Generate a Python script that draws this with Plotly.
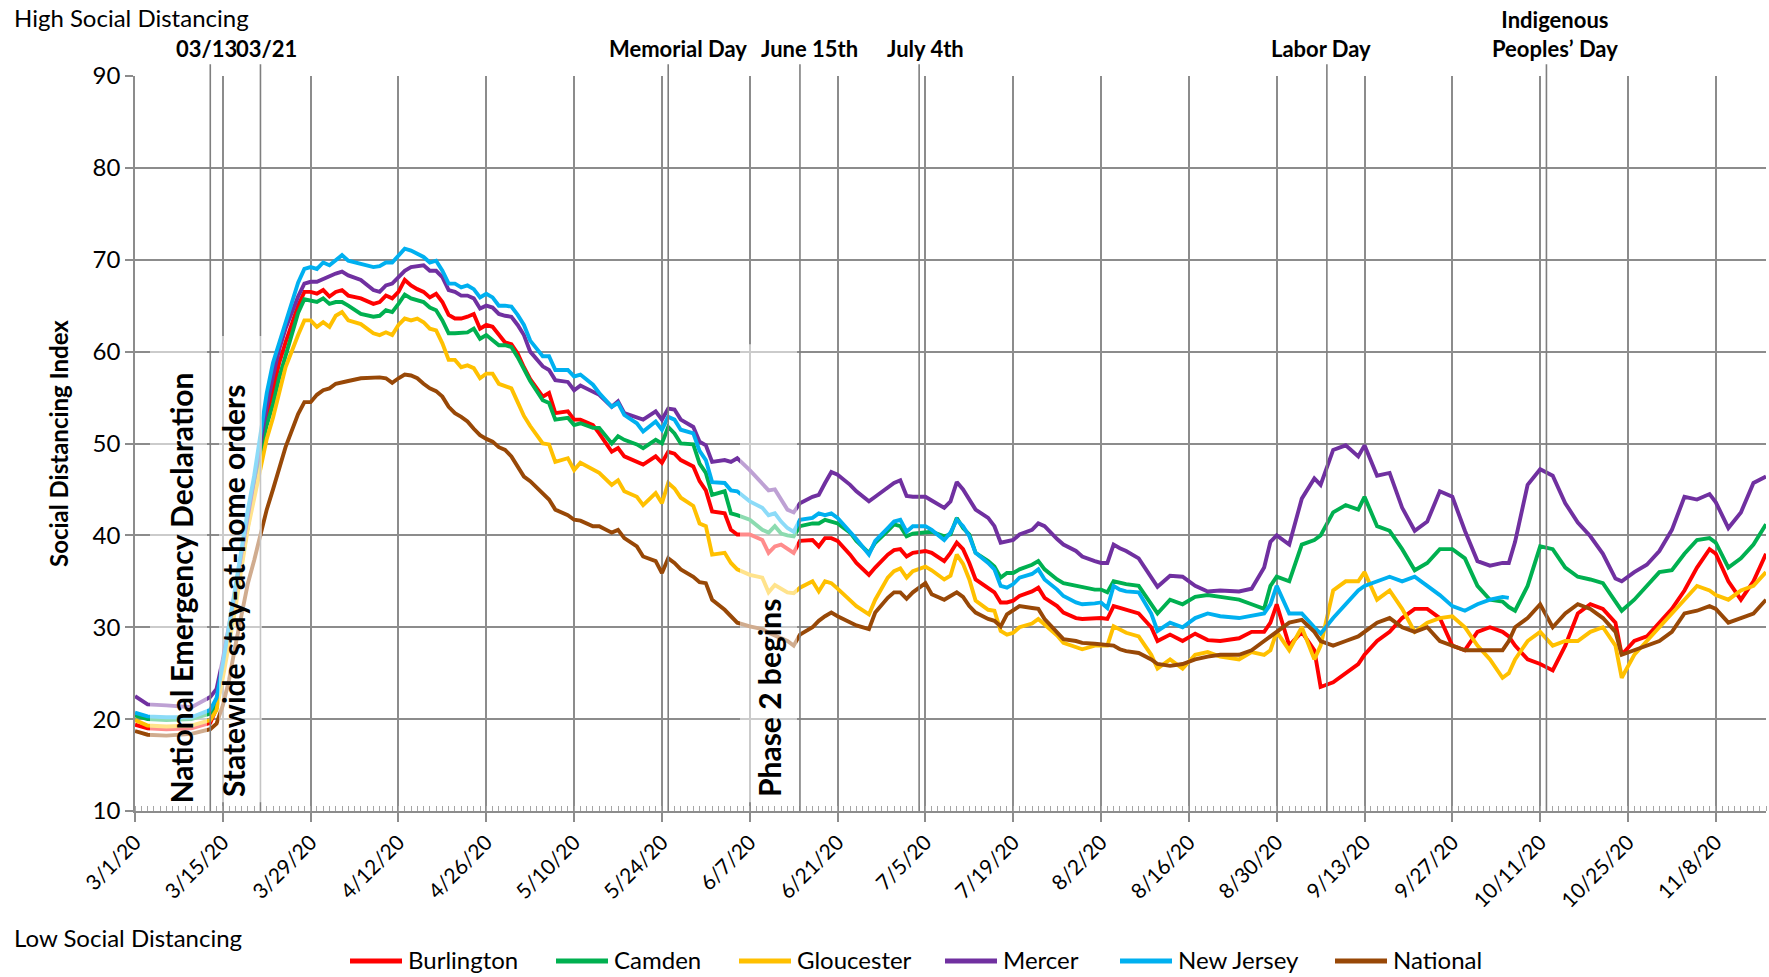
import pandas as pd
import plotly.graph_objects as go

# ---------------- data ----------------
START = "2020-03-01"
day_offsets = [0, 2, 5, 9, 12, 13, 14, 15, 16, 17, 18, 19, 20, 21, 22, 23, 24, 26, 27,
               28, 29, 30, 31, 32, 33, 34, 36, 38, 39, 40, 41, 42, 43, 44, 45, 46, 47, 48, 49,
               50, 51, 52, 53, 54, 55, 56, 57, 58, 59, 60, 61, 62, 63,
               65, 66, 67, 69, 70, 71, 73, 74, 76, 77, 78, 80, 81, 83, 84, 85, 86, 87, 89, 90,
               91, 92, 94, 95, 96,
               98, 100, 101, 102, 103, 104, 105, 106, 108, 109, 110, 111, 112, 114, 115, 117, 118,
               120, 121, 122, 123, 124, 126, 127, 129, 130, 131, 132, 133, 134, 136, 137, 138, 139,
               140, 141, 143, 144, 145, 147, 148, 150, 151, 153, 154, 155, 156, 157, 158,
               160, 162, 163, 165, 167, 169, 171, 173, 176, 178, 180, 181, 182, 184, 186, 188, 189,
               191, 193, 195, 196, 198, 200, 202, 204, 206, 208, 210, 212, 214, 216, 218, 219, 220,
               222, 224, 226, 228, 230, 232, 234, 236, 237, 239, 241, 243, 245, 247, 249, 251, 252,
               254, 256, 258, 260]

burlington = [19.4, 19.0, 18.9, 19.0, 19.6, 21.2, 25.0, 28.8, 33.0, 37.0, 41.0, 44.8, 49.0, 53.0, 55.8, 58.8, 61.0, 65.0, 66.5,
              66.5, 66.3, 66.7, 66.0, 66.5, 66.7, 66.1, 65.8, 65.2, 65.4, 66.1, 65.8, 66.5, 67.8, 67.2, 66.8, 66.5, 65.9, 66.3, 65.4,
              64.0, 63.6, 63.6, 63.8, 64.1, 62.5, 62.9, 62.7, 61.8, 61.0, 60.8, 59.8, 58.3, 57.0,
              55.1, 55.5, 53.3, 53.5, 52.6, 52.6, 52.0, 51.1, 49.1, 49.5, 48.6, 48.0, 47.7, 48.6, 47.9, 49.1, 48.9, 48.2, 47.5, 45.9,
              44.9, 42.6, 42.4, 40.6, 40.1,
              40.1, 39.5, 38.1, 38.8, 39.0, 38.6, 38.1, 39.4, 39.5, 38.8, 39.7, 39.7, 39.4, 37.9, 37.0, 35.7, 36.5,
              37.9, 38.4, 38.5, 37.7, 38.1, 38.3, 38.1, 37.2, 38.1, 39.2, 38.5, 37.0, 35.2, 34.3, 33.8, 32.7, 32.7,
              32.9, 33.4, 33.9, 34.3, 33.2, 32.3, 31.6, 31.0, 30.9, 31.0, 31.0, 30.9, 32.3, 32.1, 31.9,
              31.5, 30.0, 28.5, 29.2, 28.5, 29.3, 28.6, 28.5, 28.8, 29.5, 29.5, 30.5, 32.5, 28.0, 29.5, 27.5, 23.5,
              24.0, 25.0, 26.0, 27.0, 28.5, 29.5, 31.0, 32.0, 32.0, 31.0, 28.0, 27.5, 29.5, 30.0, 29.5, 29.0, 28.0,
              26.5, 26.0, 25.3, 28.0, 31.5, 32.5, 32.0, 30.5, 27.0, 28.5, 29.0, 30.5, 32.0, 34.0, 36.5, 38.5, 38.0,
              35.0, 33.0, 35.0, 38.0]

camden = [20.4, 20.0, 19.9, 20.0, 20.6, 21.8, 25.3, 29.2, 33.3, 37.5, 41.3, 45.0, 49.0, 52.0, 54.3, 57.2, 59.5, 64.2, 65.7,
          65.6, 65.4, 65.8, 65.2, 65.4, 65.4, 65.0, 64.1, 63.8, 63.9, 64.5, 64.3, 65.2, 66.2, 65.8, 65.6, 65.4, 64.8, 64.5, 63.4,
          62.0, 62.0, 62.0, 62.1, 62.5, 61.4, 61.8, 61.2, 60.7, 60.7, 60.5, 59.4, 58.2, 56.8,
          54.7, 54.4, 52.6, 52.8, 52.0, 52.2, 51.7, 51.7, 50.0, 50.8, 50.4, 49.9, 49.5, 50.4, 50.0, 51.8, 51.1, 50.0, 49.9, 47.8,
          46.8, 44.4, 44.8, 42.4, 42.2,
          41.7, 40.6, 40.3, 41.0, 40.2, 40.0, 39.9, 41.0, 41.3, 41.3, 41.7, 41.5, 41.3, 40.3, 39.4, 38.1, 39.2,
          40.5, 41.2, 41.0, 39.9, 40.2, 40.4, 40.4, 39.9, 40.1, 41.9, 40.8, 40.1, 38.1, 37.2, 36.6, 35.4, 35.9,
          35.9, 36.3, 36.8, 37.2, 36.3, 35.2, 34.8, 34.5, 34.3, 34.1, 34.1, 33.8, 35.0, 34.8, 34.7,
          34.5, 32.5, 31.5, 33.0, 32.5, 33.3, 33.5, 33.3, 33.0, 32.5, 32.0, 34.5, 35.5, 35.0, 39.0, 39.5, 40.0,
          42.5, 43.3, 42.8, 44.2, 41.0, 40.5, 38.5, 36.2, 37.0, 38.5, 38.5, 37.5, 34.5, 33.0, 32.8, 32.2, 31.8,
          34.5, 38.8, 38.5, 36.5, 35.5, 35.2, 34.8, 32.8, 31.8, 33.0, 34.5, 36.0, 36.2, 38.0, 39.5, 39.7, 39.2,
          36.5, 37.5, 39.0, 41.2]

gloucester = [19.9, 19.3, 19.2, 19.3, 19.9, 21.0, 24.5, 28.0, 32.0, 36.5, 40.8, 44.0, 47.5, 50.5, 52.8, 55.5, 58.3, 61.8, 63.4,
              63.4, 62.7, 63.2, 62.7, 63.9, 64.3, 63.4, 63.0, 62.0, 61.8, 62.1, 61.8, 62.9, 63.6, 63.4, 63.6, 63.2, 62.5, 62.3, 60.9,
              59.1, 59.1, 58.3, 58.5, 58.2, 57.1, 57.6, 57.6, 56.5, 56.2, 56.0, 54.5, 53.0, 51.9,
              50.0, 49.9, 48.0, 48.4, 47.1, 47.9, 47.1, 46.8, 45.5, 46.0, 44.8, 44.2, 43.3, 44.6, 43.5, 45.7, 45.1, 44.1, 43.2, 41.3,
              41.0, 37.9, 38.1, 37.0, 36.3,
              35.7, 35.4, 33.8, 34.6, 34.2, 33.8, 33.7, 34.3, 35.0, 33.9, 35.0, 34.8, 34.2, 32.9, 32.3, 31.4, 33.0,
              35.4, 36.1, 36.4, 35.4, 36.1, 36.6, 36.2, 35.2, 35.6, 37.9, 36.9, 35.2, 32.9, 31.9, 31.8, 29.6, 29.2,
              29.4, 30.0, 30.4, 30.9, 30.3, 29.1, 28.3, 27.8, 27.6, 28.0, 28.0, 28.0, 30.1, 29.8, 29.4,
              29.0, 27.0, 25.5, 26.5, 25.5, 27.0, 27.3, 26.8, 26.5, 27.3, 27.0, 27.5, 29.5, 27.5, 30.0, 26.5, 28.0,
              34.0, 35.0, 35.0, 36.0, 33.0, 34.0, 32.0, 29.5, 30.5, 31.0, 31.2, 30.0, 28.0, 26.5, 24.5, 25.0, 26.5,
              28.5, 29.5, 28.0, 28.5, 28.5, 29.5, 30.0, 28.0, 24.5, 27.0, 28.5, 30.0, 31.5, 33.0, 34.5, 34.0, 33.5,
              33.0, 34.0, 34.5, 36.0]

mercer = [22.5, 21.6, 21.5, 21.3, 22.4, 23.3, 26.5, 30.0, 34.0, 38.2, 42.2, 45.8, 50.0, 54.0, 57.3, 60.3, 62.5, 66.0, 67.4,
          67.6, 67.6, 67.9, 68.3, 68.5, 68.7, 68.3, 67.8, 66.7, 66.5, 67.2, 67.4, 68.1, 68.8, 69.2, 69.3, 69.4, 68.8, 68.8, 68.1,
          66.7, 66.5, 66.1, 66.1, 65.8, 64.7, 65.0, 64.8, 64.1, 63.9, 63.8, 62.9, 61.8, 60.0,
          58.4, 58.0, 56.9, 56.7, 55.8, 56.3, 55.7, 55.3, 54.0, 54.6, 53.3, 52.8, 52.6, 53.5, 52.6, 53.8, 53.7, 52.6, 51.8, 50.2,
          49.8, 48.0, 48.2, 48.0, 48.4,
          47.1, 45.7, 44.9, 45.0, 43.8, 42.8, 42.5, 43.5, 44.2, 44.4, 45.7, 46.9, 46.6, 45.5, 44.8, 43.7, 44.2,
          45.2, 45.7, 46.0, 44.3, 44.2, 44.2, 43.8, 43.0, 43.7, 45.8, 45.0, 43.9, 42.8, 41.9, 41.0, 39.2, 39.4,
          39.5, 40.1, 40.6, 41.3, 41.0, 39.6, 39.0, 38.3, 37.7, 37.2, 37.0, 37.0, 39.0, 38.6, 38.3,
          37.5, 35.5, 34.4, 35.6, 35.5, 34.5, 33.9, 34.0, 33.9, 34.2, 36.5, 39.3, 40.0, 39.0, 44.0, 46.2, 45.5,
          49.3, 49.8, 48.6, 49.8, 46.5, 46.8, 43.0, 40.5, 41.5, 44.8, 44.2, 40.5, 37.2, 36.7, 37.0, 37.0, 39.3,
          45.5, 47.2, 46.5, 43.5, 41.4, 39.9, 38.0, 35.3, 35.0, 36.0, 36.8, 38.3, 40.6, 44.2, 43.9, 44.5, 43.6,
          40.8, 42.5, 45.7, 46.4]

new_jersey = [20.7, 20.3, 20.2, 20.2, 21.0, 22.3, 26.0, 30.2, 34.5, 38.8, 42.8, 46.5, 51.0, 55.5, 58.8, 61.0, 63.0, 67.5, 69.0,
              69.2, 69.0, 69.7, 69.4, 69.9, 70.5, 69.9, 69.6, 69.2, 69.3, 69.7, 69.7, 70.5, 71.2, 71.0, 70.7, 70.3, 69.7, 69.9, 68.8,
              67.4, 67.4, 67.0, 67.2, 66.8, 65.9, 66.3, 65.9, 65.0, 65.0, 64.9, 64.0, 62.9, 61.2,
              59.5, 59.5, 58.0, 58.0, 57.3, 57.5, 56.4, 55.5, 54.0, 54.4, 53.1, 52.2, 51.3, 52.4, 51.5, 52.9, 52.6, 51.5, 51.1, 49.2,
              48.2, 45.8, 45.7, 44.9, 44.8,
              43.7, 43.0, 42.2, 42.4, 41.5, 40.8, 40.4, 41.7, 41.9, 42.4, 42.2, 42.4, 41.9, 40.4, 39.6, 37.9, 39.4,
              40.8, 41.5, 41.7, 40.4, 41.0, 41.0, 40.6, 39.5, 40.3, 41.7, 41.0, 39.9, 38.1, 37.0, 36.3, 34.5, 34.3,
              34.7, 35.4, 35.8, 36.3, 35.2, 34.1, 33.4, 32.7, 32.5, 32.6, 32.7, 32.1, 34.5, 34.1, 33.9,
              33.8, 31.5, 29.6, 30.5, 30.0, 31.0, 31.5, 31.2, 31.0, 31.3, 31.5, 32.5, 34.5, 31.5, 31.5, 30.0, 29.3,
              31.0, 32.5, 34.0, 34.5, 35.0, 35.5, 35.0, 35.5, 34.5, 33.5, 32.3, 31.8, 32.5, 33.0, 33.3, 33.2, None,
              None, None, None, None, None, None, None, None, None, None, None, None, None, None, None, None, None,
              None, None, None, None]

national = [18.7, 18.3, 18.2, 18.4, 18.9, 19.5, 21.5, 24.3, 28.0, 31.5, 34.8, 37.3, 40.0, 42.8, 45.0, 47.5, 49.6, 53.2, 54.5,
            54.5, 55.3, 55.8, 56.0, 56.5, 56.7, 56.8, 57.1, 57.2, 57.2, 57.1, 56.6, 57.1, 57.5, 57.4, 57.1, 56.5, 56.0, 55.7, 55.1,
            54.0, 53.3, 52.9, 52.4, 51.6, 50.9, 50.5, 50.2, 49.6, 49.3, 48.6, 47.5, 46.4, 45.9,
            44.6, 43.9, 42.8, 42.2, 41.7, 41.6, 41.0, 41.0, 40.3, 40.6, 39.7, 38.8, 37.7, 37.2, 35.9, 37.5, 37.0, 36.3, 35.5, 34.9,
            34.8, 33.0, 31.9, 31.2, 30.5,
            30.1, 29.8, 29.4, 29.1, 28.9, 28.5, 28.0, 29.2, 30.0, 30.7, 31.2, 31.6, 31.2, 30.5, 30.2, 29.8, 31.6,
            33.2, 33.8, 33.8, 33.1, 33.8, 34.8, 33.6, 33.0, 33.4, 33.8, 33.3, 32.3, 31.6, 30.9, 30.7, 30.1, 31.4,
            31.9, 32.3, 32.1, 32.0, 30.9, 29.4, 28.7, 28.5, 28.3, 28.2, 28.1, 28.0, 28.0, 27.6, 27.4,
            27.2, 26.5, 26.0, 25.8, 26.0, 26.5, 26.8, 27.0, 27.0, 27.5, 28.5, 29.0, 29.5, 30.5, 30.8, 29.5, 28.5,
            28.0, 28.5, 29.0, 29.5, 30.5, 31.0, 30.0, 29.5, 30.0, 28.5, 28.0, 27.5, 27.5, 27.5, 27.5, 28.5, 30.0,
            31.0, 32.5, 30.0, 31.5, 32.5, 32.0, 31.0, 29.5, 27.0, 27.5, 28.0, 28.5, 29.5, 31.5, 31.8, 32.3, 32.0,
            30.5, 31.0, 31.5, 33.0]

series_names = ["Burlington", "Camden", "Gloucester", "Mercer", "New Jersey", "National"]
series_values = [burlington, camden, gloucester, mercer, new_jersey, national]
series_colors = ["#FF0000", "#00B050", "#FFC000", "#7030A0", "#00B0F0", "#984807"]

event_dates = ["2020-03-13", "2020-03-21", "2020-05-25", "2020-06-15", "2020-07-04", "2020-09-07", "2020-10-12"]
event_labels = ["03/13", "03/21", "Memorial Day", "June 15th", "July 4th", "Labor Day", "Indigenous<br>Peoples’ Day"]
side_labels = ["National Emergency Declaration", "Statewide stay-at-home orders", "Phase 2 begins"]

for v in series_values:
    assert len(v) == len(day_offsets)

dates = pd.Timestamp(START) + pd.to_timedelta(day_offsets, unit="D")

# ---------------- figure ----------------
FONT = "Lato, 'Open Sans', sans-serif"
GRID = "#8c8c8c"
W, H = 1769, 977
ML, MR, MT, MB = 135, 3, 76, 166
PW, PH = W - ML - MR, H - MT - MB


def px_x(px):
    return (px - ML) / PW


def px_y(py):
    return (H - MB - py) / PH


fig = go.Figure()
for name, vals, col in zip(series_names, series_values, series_colors):
    fig.add_trace(go.Scatter(x=dates, y=vals, name=name, mode="lines",
                             line=dict(color=col, width=3.9), connectgaps=False,
                             showlegend=False))

DAY_MS = 86400000
fig.update_xaxes(type="date", range=["2020-03-01", "2020-11-16"],
                 tick0="2020-03-01", dtick=14 * DAY_MS, tickformat="%-m/%-d/%y",
                 tickangle=-45, tickfont=dict(family=FONT, size=21, color="black"),
                 showgrid=True, gridcolor=GRID, gridwidth=1.5,
                 showline=True, linecolor=GRID, linewidth=1.5,
                 ticks="outside", ticklen=9, tickcolor=GRID, tickwidth=1.5,
                 minor=dict(dtick=DAY_MS, ticks="inside", ticklen=5, tickcolor="#a6a6a6",
                            tickwidth=1, showgrid=False),
                 zeroline=False, automargin=False)
fig.update_yaxes(range=[10, 90], dtick=10, tick0=10,
                 tickfont=dict(family=FONT, size=24, color="black"),
                 showgrid=True, gridcolor=GRID, gridwidth=1.5,
                 showline=True, linecolor=GRID, linewidth=1.5,
                 ticks="outside", ticklen=8, tickcolor=GRID, tickwidth=1.5,
                 zeroline=False, automargin=False)

shapes = []
annotations = []

# event lines extending above the plot, with labels on top
label_shift = [-4, 6, 10, 10, 6, -6, 9]
for d, lab, sh in zip(event_dates, event_labels, label_shift):
    shapes.append(dict(type="line", xref="x", yref="paper", x0=d, x1=d, y0=0, y1=1.016,
                       line=dict(color="#7f7f7f", width=1.6), layer="above"))
    annotations.append(dict(text="<b>" + lab + "</b>", x=d, xref="x", y=1.0165, yref="paper",
                            xanchor="center", yanchor="bottom", showarrow=False, xshift=sh,
                            font=dict(family=FONT, size=22, color="black")))

# translucent white boxes behind the vertical labels
box_spans = [(150, 207), (219, 262), (740, 797)]
box_tops = [61.7, 61.7, 60.8]
for (a, b), top in zip(box_spans, box_tops):
    shapes.append(dict(type="rect", xref="paper", yref="paper", x0=px_x(a), x1=px_x(b),
                       y0=0.012, y1=(top - 10) / 80, fillcolor="rgba(255,255,255,0.55)",
                       line=dict(width=0), layer="above"))

label_x = [180, 233, 769]
label_bottom = [806, 799, 799]
for txt, lx, lb in zip(side_labels, label_x, label_bottom):
    annotations.append(dict(text="<b>" + txt + "</b>", textangle=-90, x=px_x(lx), xref="paper",
                            y=px_y(lb), yref="paper", xanchor="center", yanchor="bottom",
                            showarrow=False, font=dict(family=FONT, size=30, color="black")))

annotations.append(dict(text="High Social Distancing", x=px_x(12), y=px_y(17), xref="paper", yref="paper",
                        xanchor="left", yanchor="middle", showarrow=False,
                        font=dict(family=FONT, size=24, color="black")))
annotations.append(dict(text="Low Social Distancing", x=px_x(12), y=px_y(937), xref="paper", yref="paper",
                        xanchor="left", yanchor="middle", showarrow=False,
                        font=dict(family=FONT, size=24, color="black")))
annotations.append(dict(text="<b>Social Distancing Index</b>", textangle=-90, x=px_x(59), y=px_y(444),
                        xref="paper", yref="paper", xanchor="center", yanchor="middle", showarrow=False,
                        font=dict(family=FONT, size=24, color="black")))

# legend (drawn as line samples + labels below the plot)
legend_x = [350, 556, 739, 945, 1120, 1335]
LEG_Y = 960
for name, col, lx in zip(series_names, series_colors, legend_x):
    shapes.append(dict(type="line", xref="paper", yref="paper", x0=px_x(lx), x1=px_x(lx + 52),
                       y0=px_y(LEG_Y + 1), y1=px_y(LEG_Y + 1), line=dict(color=col, width=5)))
    annotations.append(dict(text=name, x=px_x(lx + 56), y=px_y(LEG_Y), xref="paper", yref="paper",
                            xanchor="left", yanchor="middle", showarrow=False,
                            font=dict(family=FONT, size=24, color="black")))

fig.update_layout(width=W, height=H, margin=dict(l=ML, r=MR, t=MT, b=MB, autoexpand=False),
                  paper_bgcolor="white", plot_bgcolor="white",
                  shapes=shapes, annotations=annotations,
                  showlegend=False,
                  font=dict(family=FONT))

fig.write_html("out.html", config={"displayModeBar": False},
               post_script="document.body.style.margin='0';document.body.style.overflow='hidden';")
